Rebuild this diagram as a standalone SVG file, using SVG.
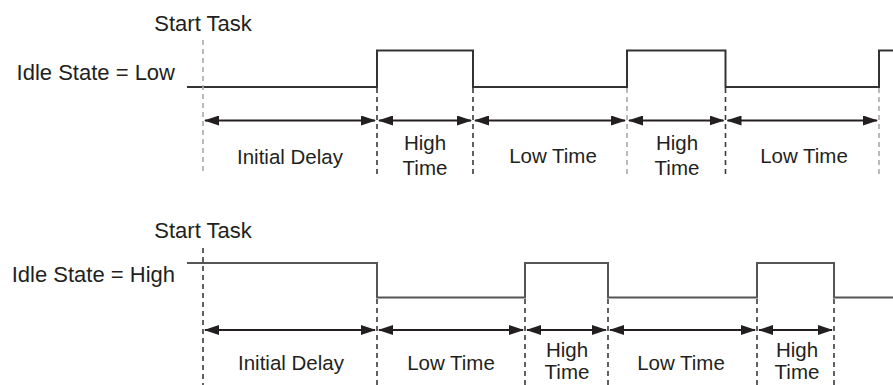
<svg xmlns="http://www.w3.org/2000/svg" width="893" height="385" viewBox="0 0 893 385">
<style>
  .t{font-family:"Liberation Sans",Arial,sans-serif;fill:#231f20}
  .title{font-size:22px}
  .lbl{font-size:20.5px;text-anchor:middle}
  .sig{fill:none;stroke:#333;stroke-width:2}
  .sig2{fill:none;stroke:#555;stroke-width:2}
  .dd{fill:none;stroke:#3a3a3a;stroke-width:1.6;stroke-dasharray:5,4}
  .dl{fill:none;stroke:#aaa;stroke-width:1.6;stroke-dasharray:5,4}
  .arr{stroke:#231f20;stroke-width:2;marker-start:url(#ah);marker-end:url(#ah)}
</style>
<defs>
  <marker id="ah" viewBox="0 0 15 10" refX="14" refY="5" markerWidth="15" markerHeight="10" markerUnits="userSpaceOnUse" orient="auto-start-reverse">
    <path d="M0,0 L15,5 L0,10 Z" fill="#231f20"/>
  </marker>
</defs>
<rect width="893" height="385" fill="#fff"/>

<g id="top-diagram">
  <g id="top-start"><text class="t title" x="203" y="31" text-anchor="middle">Start Task</text></g>
  <g id="top-idle"><text class="t title" x="175" y="80" text-anchor="end">Idle State = Low</text></g>
  <g id="top-signal"><path class="sig" d="M187,87 H377 V50.5 H473 V87 H627 V50.5 H725.5 V87 H879 V50.5 H893"/></g>
  <g id="top-markers">
    <line class="dl" x1="203" y1="40" x2="203" y2="175"/>
    <line class="dd" x1="377" y1="88" x2="377" y2="175"/>
    <line class="dd" x1="473" y1="88" x2="473" y2="175"/>
    <line class="dl" x1="627" y1="88" x2="627" y2="175"/>
    <line class="dd" x1="725.5" y1="88" x2="725.5" y2="175"/>
    <line class="dl" x1="879" y1="88" x2="879" y2="175"/>
  </g>
  <g id="top-labels">
    <text class="t lbl" x="290" y="164">Initial Delay</text>
    <text class="t lbl" x="425" y="150">High</text>
    <text class="t lbl" x="425" y="175">Time</text>
    <text class="t lbl" x="553" y="163">Low Time</text>
    <text class="t lbl" x="677" y="150">High</text>
    <text class="t lbl" x="677" y="175">Time</text>
    <text class="t lbl" x="804" y="163">Low Time</text>
  </g>
</g>

<g id="bottom-diagram">
  <g id="bot-start"><text class="t title" x="203" y="238" text-anchor="middle">Start Task</text></g>
  <g id="bot-idle"><text class="t title" x="175" y="282" text-anchor="end">Idle State = High</text></g>
  <g id="bot-signal"><path class="sig2" d="M187,263 H377 V297.5 H525 V263 H608 V297.5 H757 V263 H834 V297.5 H893"/></g>
  <g id="bot-markers">
    <line class="dd" x1="203" y1="248" x2="203" y2="385"/>
    <line class="dd" x1="377" y1="299" x2="377" y2="385"/>
    <line class="dd" x1="525" y1="299" x2="525" y2="385"/>
    <line class="dd" x1="608" y1="299" x2="608" y2="385"/>
    <line class="dd" x1="757" y1="299" x2="757" y2="385"/>
    <line class="dd" x1="834" y1="299" x2="834" y2="385"/>
  </g>
  <g id="bot-labels">
    <text class="t lbl" x="291" y="370">Initial Delay</text>
    <text class="t lbl" x="451" y="370">Low Time</text>
    <text class="t lbl" x="567" y="357">High</text>
    <text class="t lbl" x="567" y="379">Time</text>
    <text class="t lbl" x="681" y="370">Low Time</text>
    <text class="t lbl" x="797" y="357">High</text>
    <text class="t lbl" x="797" y="379">Time</text>
  </g>
</g>

<g id="connectors">
  <line class="arr" x1="205" y1="120.5" x2="375" y2="120.5"/>
  <line class="arr" x1="379" y1="120.5" x2="471" y2="120.5"/>
  <line class="arr" x1="475" y1="120.5" x2="625" y2="120.5"/>
  <line class="arr" x1="629" y1="120.5" x2="723.5" y2="120.5"/>
  <line class="arr" x1="727.5" y1="120.5" x2="877" y2="120.5"/>
  <line class="arr" x1="205" y1="330" x2="375" y2="330"/>
  <line class="arr" x1="379" y1="330" x2="523" y2="330"/>
  <line class="arr" x1="527" y1="330" x2="606" y2="330"/>
  <line class="arr" x1="610" y1="330" x2="755" y2="330"/>
  <line class="arr" x1="759" y1="330" x2="832" y2="330"/>
</g>
</svg>
